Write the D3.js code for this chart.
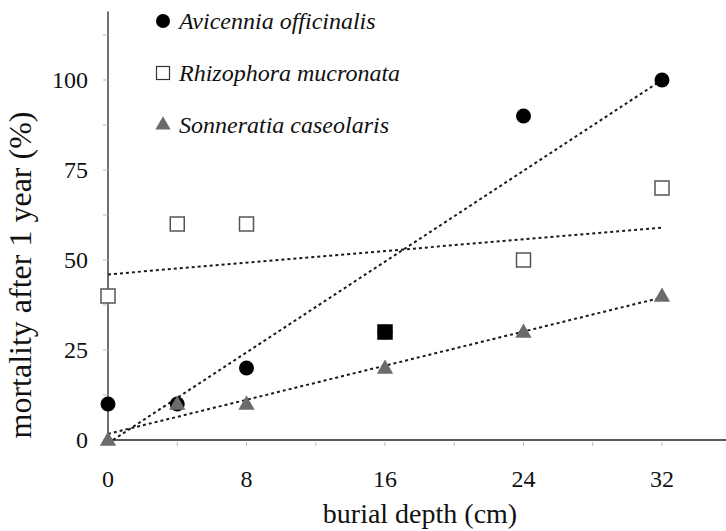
<!DOCTYPE html>
<html>
<head>
<meta charset="utf-8">
<script src="https://cdn.jsdelivr.net/npm/d3@7"></script>
<style>
  body { margin: 0; background: #fff; }
  svg { display: block; }
  text { font-family: "Liberation Serif", "DejaVu Serif", serif; fill: #111; }
</style>
</head>
<body>
<div id="chart"></div>
<script>
// burial depth (cm)
var depths = [0, 4, 8, 16, 24, 32];

// mortality after 1 year (%) for each species
var avicennia = [10, 10, 20, 30, 90, 100];
var rhizophora = [40, 60, 60, 30, 50, 70];
var sonneratia = [0, 10, 10, 20, 30, 40];

// dotted trend lines: [x0, y0, x1, y1]
var avicenniaTrend = [0, -0.9, 32, 100];
var rhizophoraTrend = [0, 46, 32, 59];
var sonneratiaTrend = [0, 1.7, 32, 39.6];

var xTicks = [0, 8, 16, 24, 32];
var xMinor = [4, 12, 20, 28];
var yTicks = [0, 25, 50, 75, 100];
var yMinor = [12.5, 37.5, 62.5, 87.5, 112.5];

var legendNames = ["Avicennia officinalis", "Rhizophora mucronata", "Sonneratia caseolaris"];

var width = 726, height = 531;
var svg = d3.select('#chart').append('svg')
    .attr('width', width)
    .attr('height', height);

var x = d3.scaleLinear().domain([0, 32]).range([108, 662]);
var y = d3.scaleLinear().domain([0, 100]).range([440, 80]);

// axes
var xAxis = svg.append('g').attr('transform', 'translate(0,' + y(0) + ')');
xAxis.append('line')
    .attr('x1', x(0)).attr('x2', width)
    .attr('stroke', '#222').attr('stroke-width', 1.6);
xAxis.selectAll('.minor')
    .data(xTicks.concat(xMinor))
    .join('line')
    .attr('x1', d => x(d)).attr('x2', d => x(d))
    .attr('y1', 2).attr('y2', 6)
    .attr('stroke', '#bbb');
xAxis.selectAll('text')
    .data(xTicks)
    .join('text')
    .attr('x', d => x(d))
    .attr('y', 47)
    .attr('text-anchor', 'middle')
    .style('font-size', '24px')
    .text(d => d);

var yAxis = svg.append('g').attr('transform', 'translate(' + x(0) + ',0)');
yAxis.append('line')
    .attr('y1', y(0)).attr('y2', y(119))
    .attr('stroke', '#222').attr('stroke-width', 1.3);
yAxis.selectAll('.tick')
    .data(yTicks.concat(yMinor))
    .join('line')
    .attr('x1', -5).attr('x2', 0)
    .attr('y1', d => y(d)).attr('y2', d => y(d))
    .attr('stroke', '#bbb');
yAxis.selectAll('text')
    .data(yTicks)
    .join('text')
    .attr('x', -20)
    .attr('y', d => y(d) + 8)
    .attr('text-anchor', 'end')
    .style('font-size', '24px')
    .text(d => d);

svg.append('text')
    .attr('x', 420)
    .attr('y', 523)
    .attr('text-anchor', 'middle')
    .style('font-size', '28px')
    .text('burial depth (cm)');

svg.append('text')
    .attr('transform', 'translate(31,' + 275 + ') rotate(-90)')
    .attr('text-anchor', 'middle')
    .style('font-size', '32px')
    .text('mortality after 1 year (%)');

// trend lines
var trends = [avicenniaTrend, rhizophoraTrend, sonneratiaTrend];
svg.selectAll('.trend')
    .data(trends)
    .join('line')
    .attr('class', 'trend')
    .attr('x1', d => x(d[0])).attr('y1', d => y(d[1]))
    .attr('x2', d => x(d[2])).attr('y2', d => y(d[3]))
    .attr('stroke', '#1a1a1a')
    .attr('stroke-width', 2)
    .attr('stroke-dasharray', '3,3');

var triangle = d3.symbol().type(d3.symbolTriangle).size(115);

// markers
svg.selectAll('.avi')
    .data(depths)
    .join('circle')
    .attr('class', 'avi')
    .attr('cx', d => x(d))
    .attr('cy', (d, i) => y(avicennia[i]))
    .attr('r', 7.5)
    .attr('fill', '#000');

// where a square sits on a circle the two merge into a solid black mark
svg.selectAll('.rhi')
    .data(depths)
    .join('rect')
    .attr('class', 'rhi')
    .attr('x', d => x(d) - 7)
    .attr('y', (d, i) => y(rhizophora[i]) - 7)
    .attr('width', 14).attr('height', 14)
    .attr('fill', (d, i) => rhizophora[i] === avicennia[i] ? '#000' : '#fff')
    .attr('stroke', (d, i) => rhizophora[i] === avicennia[i] ? '#000' : '#555')
    .attr('stroke-width', 1.5);

svg.selectAll('.son')
    .data(depths)
    .join('path')
    .attr('class', 'son')
    .attr('d', triangle)
    .attr('transform', (d, i) => 'translate(' + x(d) + ',' + (y(sonneratia[i]) + 1) + ')')
    .attr('fill', '#6b6b6b');

// legend
var legend = svg.append('g');
var rows = legend.selectAll('g')
    .data(legendNames)
    .join('g')
    .attr('transform', (d, i) => 'translate(163,' + (21 + i * 52) + ')');
rows.filter((d, i) => i === 0).append('circle').attr('r', 7).attr('fill', '#000');
rows.filter((d, i) => i === 1).append('rect')
    .attr('x', -6.5).attr('y', -6.5).attr('width', 13).attr('height', 13)
    .attr('fill', '#fff').attr('stroke', '#333').attr('stroke-width', 1.2);
rows.filter((d, i) => i === 2).append('path')
    .attr('d', d3.symbol().type(d3.symbolTriangle).size(100))
    .attr('fill', '#6b6b6b');
rows.append('text')
    .attr('x', 16)
    .attr('y', 8)
    .style('font-size', '24px')
    .style('font-style', 'italic')
    .text(d => d);
</script>
</body>
</html>
